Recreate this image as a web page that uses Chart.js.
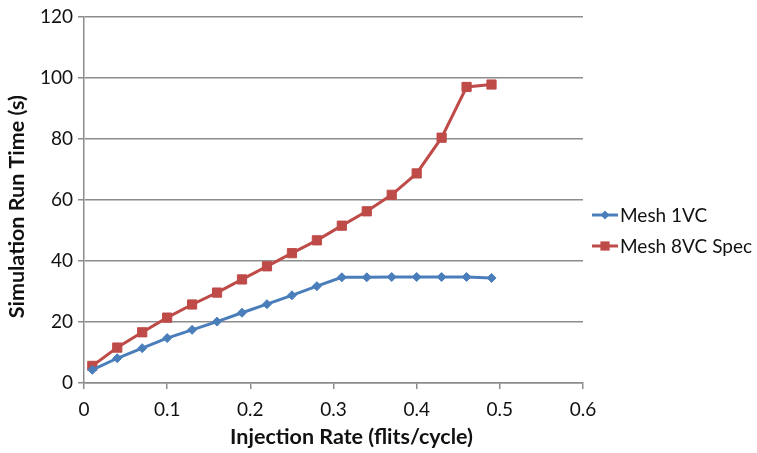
<!DOCTYPE html>
<html>
<head>
<meta charset="utf-8">
<script src="https://cdn.jsdelivr.net/npm/chart.js@4"></script>
<style>
  body { margin: 0; background: #fff; }
  #wrap { position: relative; width: 757px; height: 453px; overflow: hidden; }
  #legend { position: absolute; left: 592px; top: 199px; font-family: Lato, sans-serif; font-size: 19px; color: #111; white-space: nowrap; }
  .item { display: flex; align-items: center; height: 31px; }
  .item canvas { margin-right: 2px; }
</style>
</head>
<body>
<div id="wrap">
  <canvas id="chart" width="757" height="453"></canvas>
  <div id="legend"></div>
</div>
<script>
const injectionRate = [0.01, 0.04, 0.07, 0.10, 0.13, 0.16, 0.19, 0.22, 0.25, 0.28, 0.31, 0.34, 0.37, 0.40, 0.43, 0.46, 0.49];
const mesh1VC = [4.3, 8.1, 11.4, 14.7, 17.4, 20.1, 23.0, 25.8, 28.7, 31.7, 34.6, 34.6, 34.7, 34.7, 34.7, 34.7, 34.4];
const mesh8VCSpec = [5.6, 11.6, 16.6, 21.4, 25.7, 29.6, 33.9, 38.2, 42.5, 46.7, 51.5, 56.2, 61.6, 68.6, 80.3, 96.9, 97.7];
const xTitle = "Injection Rate (flits/cycle)";
const yTitle = "Simulation Run Time (s)";

const series = [
    { label: "Mesh 1VC", values: mesh1VC, color: "#4a7ebb", point: "rectRot", radius: 4.5 },
    { label: "Mesh 8VC Spec", values: mesh8VCSpec, color: "#be4b48", point: "rect", radius: 6.5 }
];

const gridColor = "#8c8c8c";
const font = { family: "Lato, sans-serif", size: 19 };

// axis titles sit a little off-centre in the original, so draw them here
const axisTitles = {
    id: "axisTitles",
    afterDraw(chart) {
        const ctx = chart.ctx;
        const area = chart.chartArea;
        ctx.save();
        ctx.fillStyle = "#111";
        ctx.font = "bold 21.5px Lato, sans-serif";
        ctx.textAlign = "center";
        ctx.textBaseline = "middle";
        ctx.fillText(xTitle, (area.left + area.right) / 2 + 18, 437);
        ctx.translate(17, (area.top + area.bottom) / 2 + 7);
        ctx.rotate(-Math.PI / 2);
        ctx.fillText(yTitle, 0, 0);
        ctx.restore();
    }
};

new Chart(document.getElementById("chart"), {
    type: "scatter",
    data: {
        datasets: series.map(s => ({
            label: s.label,
            data: injectionRate.map((x, i) => ({ x: x, y: s.values[i] })),
            showLine: true,
            borderColor: s.color,
            backgroundColor: s.color,
            borderWidth: 3,
            pointStyle: s.point,
            pointRadius: s.radius,
            pointBorderWidth: 1
        }))
    },
    options: {
        responsive: false,
        animation: false,
        layout: { padding: { top: 15, right: 174 } },
        plugins: { legend: { display: false }, tooltip: { enabled: false } },
        scales: {
            x: {
                type: "linear",
                min: 0, max: 0.6,
                ticks: { stepSize: 0.1, color: "#111", font: font, padding: 9, callback: v => +v.toFixed(1) },
                grid: { drawOnChartArea: false, color: gridColor, lineWidth: 1.5, tickLength: 6 },
                border: { color: gridColor, width: 1.5 },
                afterFit: s => { s.height = 70; }
            },
            y: {
                min: 0, max: 120,
                ticks: { stepSize: 20, color: "#111", font: font, padding: 5 },
                grid: { color: gridColor, lineWidth: 1.5, tickLength: 6 },
                border: { color: gridColor, width: 1.5 },
                afterFit: s => { s.width = 84; }
            }
        }
    },
    plugins: [axisTitles]
});

// legend: line sample with marker, then text
const legend = document.getElementById("legend");
series.forEach(s => {
    const row = document.createElement("div");
    row.className = "item";
    const c = document.createElement("canvas");
    c.width = 26; c.height = 14;
    const g = c.getContext("2d");
    g.strokeStyle = s.color; g.fillStyle = s.color; g.lineWidth = 3;
    g.beginPath(); g.moveTo(0, 7); g.lineTo(26, 7); g.stroke();
    const r = s.radius;
    if (s.point === "rect") {
        const h = r * Math.SQRT1_2;
        g.fillRect(13 - h, 7 - h, h * 2, h * 2);
    } else {
        g.beginPath(); g.moveTo(13, 7 - r); g.lineTo(13 + r, 7); g.lineTo(13, 7 + r); g.lineTo(13 - r, 7); g.closePath(); g.fill();
    }
    row.appendChild(c);
    const t = document.createElement("span");
    t.textContent = s.label;
    row.appendChild(t);
    legend.appendChild(row);
});
</script>
</body>
</html>
